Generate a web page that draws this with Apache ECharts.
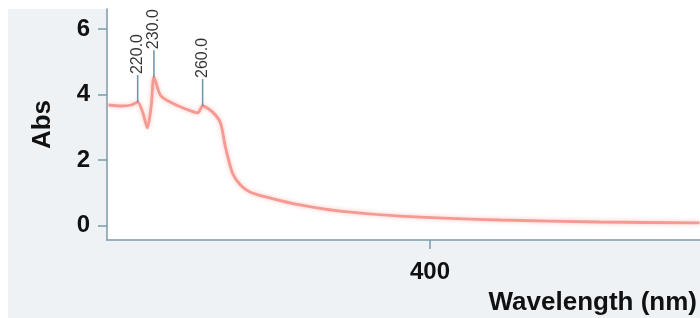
<!DOCTYPE html>
<html>
<head>
<meta charset="utf-8">
<script src="https://cdn.jsdelivr.net/npm/echarts@6/dist/echarts.min.js"></script>
<style>
  html, body { margin: 0; padding: 0; background: #fff; }
  #chart { width: 700px; height: 318px; }
</style>
</head>
<body>
<div id="chart"></div>
<script>
// spectrum: wavelength (nm) and absorbance
const wavelength = [202, 210, 216, 220, 223, 226, 228.4, 230, 234, 240, 249.5, 257, 260, 266, 271, 274, 278.4, 283.3, 289.4, 301.7, 320, 344.7, 381.6, 443, 504.4, 566];
const absorbance = [3.68, 3.65, 3.68, 3.77, 3.47, 2.98, 3.68, 4.53, 3.98, 3.77, 3.56, 3.44, 3.65, 3.47, 3.13, 2.40, 1.60, 1.24, 1.02, 0.84, 0.63, 0.44, 0.29, 0.17, 0.11, 0.08];

// labelled peaks
const peakX = [220, 230, 260];
const peakY = [3.77, 4.53, 3.65];

const xTicks = [400];
const yTicks = [0, 2, 4, 6];

const chart = echarts.init(document.getElementById('chart'));

const axisColor = '#7b9aab';
const font = 'Liberation Sans, Arial, sans-serif';

chart.setOption({
  animation: false,
  backgroundColor: '#ffffff',
  graphic: [
    {
      type: 'rect',
      z: -10,
      silent: true,
      shape: { x: 8, y: 9, width: 692, height: 309 },
      style: { fill: '#eff2f4' }
    }
  ],
  grid: {
    left: 107, right: 0, top: 9, bottom: 78,
    show: true, backgroundColor: '#ffffff', borderWidth: 0
  },
  xAxis: {
    type: 'value',
    min: 201.1,
    max: 566.3,
    name: 'Wavelength (nm)',
    nameLocation: 'end',
    nameGap: -3,
    nameTextStyle: {
      fontFamily: font, fontWeight: 'bold', fontSize: 26, color: '#111',
      align: 'right', verticalAlign: 'top', padding: [50, 0, 0, 0]
    },
    axisLine: { onZero: false, lineStyle: { color: axisColor, width: 1.5 } },
    axisTick: { show: true, length: 9, customValues: xTicks, lineStyle: { color: axisColor, width: 1.5 } },
    axisLabel: {
      customValues: xTicks, margin: 20,
      fontFamily: font, fontWeight: 'bold', fontSize: 24, color: '#111'
    },
    splitLine: { show: false }
  },
  yAxis: {
    type: 'value',
    min: -0.44,
    max: 6.61,
    name: 'Abs',
    nameLocation: 'middle',
    nameGap: 51,
    nameTextStyle: { fontFamily: font, fontWeight: 'bold', fontSize: 26, color: '#111' },
    axisLine: { show: true, lineStyle: { color: axisColor, width: 1.5 } },
    axisTick: { show: true, length: 9, customValues: yTicks, lineStyle: { color: axisColor, width: 1.5 } },
    axisLabel: {
      customValues: yTicks, margin: 17,
      fontFamily: font, fontWeight: 'bold', fontSize: 24, color: '#111'
    },
    splitLine: { show: false }
  },
  series: [
    {
      type: 'line',
      data: wavelength.map((w, i) => [w, absorbance[i]]),
      showSymbol: false,
      smooth: 0.25,
      lineStyle: {
        color: '#f49a92', width: 2.8,
        shadowBlur: 4, shadowColor: 'rgba(244,154,146,0.6)'
      },
      z: 2
    },
    {
      type: 'scatter',
      data: peakX.map((w, i) => [w, peakY[i]]),
      symbol: 'rect',
      symbolSize: [1.6, 27],
      symbolOffset: [0, -13.5],
      itemStyle: { color: '#4d8099' },
      label: {
        show: true,
        position: 'top',
        distance: 1,
        rotate: 90,
        align: 'left',
        verticalAlign: 'middle',
        formatter: (p) => p.value[0].toFixed(1),
        fontFamily: font,
        fontSize: 16,
        color: '#000',
        textBorderColor: 'rgba(255,255,255,0.7)',
        textBorderWidth: 1.5
      },
      z: 3
    }
  ]
});
</script>
</body>
</html>
